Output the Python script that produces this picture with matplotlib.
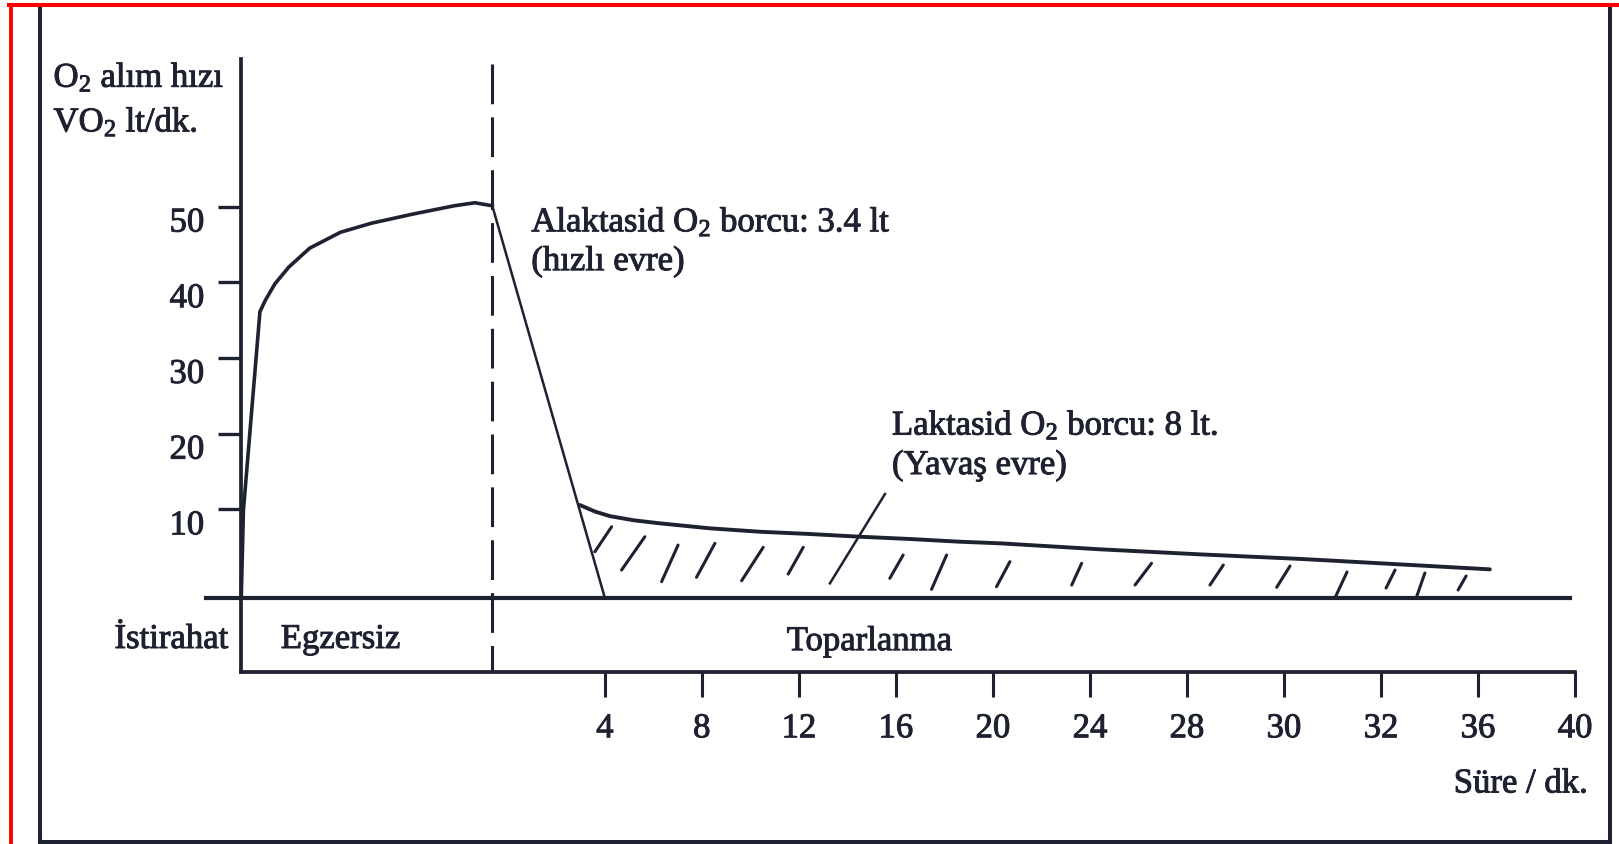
import numpy as np
import matplotlib
matplotlib.use('Agg')
from matplotlib import pyplot as plt
from matplotlib.lines import Line2D
import matplotlib.patheffects as pe

#### D A T A ####

# tick labels of the time axis (as printed, evenly spaced)
x_tick_labels = ['4', '8', '12', '16', '20', '24', '28', '30', '32', '36', '40']
x_tick_pos = np.arange(4, 45, 4)
y_ticks = [10, 20, 30, 40, 50]

# exercise phase: O2 uptake rising to steady state
exercise_x = [-10.99, -10.9, -10.22, -10.0, -9.6, -9.03, -8.17, -6.9, -5.62, -3.92, -2.21, -1.36, -0.64]
exercise_y = [-1.69, 9.9, 36.1, 37.6, 39.8, 42.0, 44.5, 46.6, 47.8, 49.0, 50.1, 50.5, 50.1]

# fast (alactacid) drop
fast_x = [-0.64, 4.0]
fast_y = [50.1, -1.69]

# slow (lactacid) phase
slow_x = [2.97, 3.6, 4.21, 5.2, 6.27, 8.33, 10.39, 12.45, 14.52, 16.58, 18.64, 20.29, 24.41, 28.54, 32.66, 34.0, 40.49]
slow_y = [10.57, 9.7, 9.1, 8.55, 8.15, 7.49, 7.04, 6.74, 6.38, 6.08, 5.72, 5.51, 4.72, 4.05, 3.45, 3.22, 2.07]

# hand drawn hatch strokes under the slow curve
hatch_x0 = [3.59, 4.69, 6.34, 7.78, 9.64, 11.56, 15.75, 17.47, 20.15, 23.25, 25.86, 28.95, 31.70, 34.14, 36.21, 37.48, 39.18]
hatch_y0 = [4.40, 1.98, 0.44, 1.02, 0.57, 1.45, 0.89, -0.57, -0.22, 0.0, 0.0, 0.0, -0.30, -1.45, -0.40, -1.45, -0.66]
hatch_x1 = [4.28, 5.65, 7.02, 8.54, 10.53, 12.18, 16.30, 18.09, 20.70, 23.66, 26.54, 29.50, 32.25, 34.60, 36.58, 37.81, 39.51]
hatch_y1 = [7.70, 6.38, 5.28, 5.51, 4.98, 4.98, 3.96, 3.96, 3.08, 2.87, 2.87, 2.64, 2.51, 1.72, 1.98, 1.59, 1.19]

# pointer from the lactacid label
pointer_x = [13.28, 15.55]
pointer_y = [0.22, 12.02]

baseline_y = -1.69
exercise_end = -0.64

ink = '#1e2230'
heavy = [pe.withStroke(linewidth=0.7, foreground=ink)]

plt.rcParams['font.family'] = ['Liberation Serif', 'DejaVu Serif']
plt.rcParams['mathtext.fontset'] = 'custom'
plt.rcParams['mathtext.rm'] = 'Liberation Serif'
plt.rcParams['mathtext.it'] = 'Liberation Serif:italic'
plt.rcParams['mathtext.bf'] = 'Liberation Serif:bold'
plt.rcParams['text.color'] = ink

fig = plt.figure(figsize=(16.19, 8.44), dpi=100)
ax = fig.add_axes([0.14886, 0.20379, 0.82397, 0.72630])
ax.set_xlim(-11, 44)
ax.set_ylim(-11.49, 69.49)

for s in ['top', 'right']:
    ax.spines[s].set_visible(False)
for s in ['left', 'bottom']:
    ax.spines[s].set_linewidth(2.7)
    ax.spines[s].set_color(ink)

fs = 25
ax.set_yticks(y_ticks)
ax.set_yticklabels([str(v) for v in y_ticks])
ax.set_xticks(x_tick_pos)
ax.set_xticklabels(x_tick_labels)
ax.tick_params(axis='y', direction='out', length=16.5, width=2.4, pad=10, colors=ink, labelsize=fs)
ax.tick_params(axis='x', direction='out', length=18, width=2.2, pad=11, colors=ink, labelsize=fs)
plt.setp(ax.get_yticklabels(), va='top', path_effects=heavy)
plt.setp(ax.get_xticklabels(), path_effects=heavy)

#### C U R V E S ####
ax.plot(exercise_x, exercise_y, color=ink, lw=2.6, clip_on=False, solid_joinstyle='round')
ax.plot(fast_x, fast_y, color=ink, lw=1.8, clip_on=False)
ax.plot(slow_x, slow_y, color=ink, lw=2.8, clip_on=False, solid_capstyle='round',
        solid_joinstyle='round')
for xa, ya, xb, yb in zip(hatch_x0, hatch_y0, hatch_x1, hatch_y1):
    ax.plot([xa, xb], [ya, yb], color=ink, lw=2.2, solid_capstyle='round')
ax.plot(pointer_x, pointer_y, color=ink, lw=1.8)

# rest line and phase separator
ax.plot([-12.45, 43.8], [baseline_y, baseline_y], color=ink, lw=3.0, clip_on=False)
ax.plot([exercise_end, exercise_end], [68.8, -11.49], color=ink, lw=2.2,
        dashes=(13, 4.3), clip_on=False)

#### T E X T ####
labels = [
    (-18.73, 65.8, r'O$_\mathrm{2}$ alım hızı', 'left'),
    (-18.73, 59.9, r'VO$_\mathrm{2}$ lt/dk.', 'left'),
    (0.97, 46.7, r'Alaktasid O$_\mathrm{2}$ borcu: 3.4 lt', 'left'),
    (0.97, 41.6, '(hızlı evre)', 'left'),
    (15.84, 19.85, r'Laktasid O$_\mathrm{2}$ borcu: 8 lt.', 'left'),
    (15.84, 14.66, '(Yavaş evre)', 'left'),
    (-11.5, -8.32, 'İstirahat', 'right'),
    (-9.36, -8.32, 'Egzersiz', 'left'),
    (11.5, -8.6, 'Toparlanma', 'left'),
    (44.54, -27.4, 'Süre / dk.', 'right'),
]
for x, y, txt, ha in labels:
    ax.text(x, y, txt, fontsize=fs, ha=ha, va='baseline', clip_on=False, path_effects=heavy)

#### F R A M E ####
W, H = 1619.0, 844.0
frame = [([39.7, 39.7], [6, 842]), ([1609.5, 1609.5], [6, 842]), ([39.7, 1609.5], [842, 842])]
for xs, ys in frame:
    fig.add_artist(Line2D([x / W for x in xs], [1 - y / H for y in ys], color=ink, lw=2.9,
                          transform=fig.transFigure))
# red border of the scan
fig.add_artist(Line2D([11 / W, 11 / W], [0, 1 - 4.7 / H], color='#ff0000', lw=2.8, transform=fig.transFigure))
fig.add_artist(Line2D([9 / W, 1], [1 - 4.7 / H, 1 - 4.7 / H], color='#ff0000', lw=2.9, transform=fig.transFigure))

plt.savefig('out.png', dpi=100)
